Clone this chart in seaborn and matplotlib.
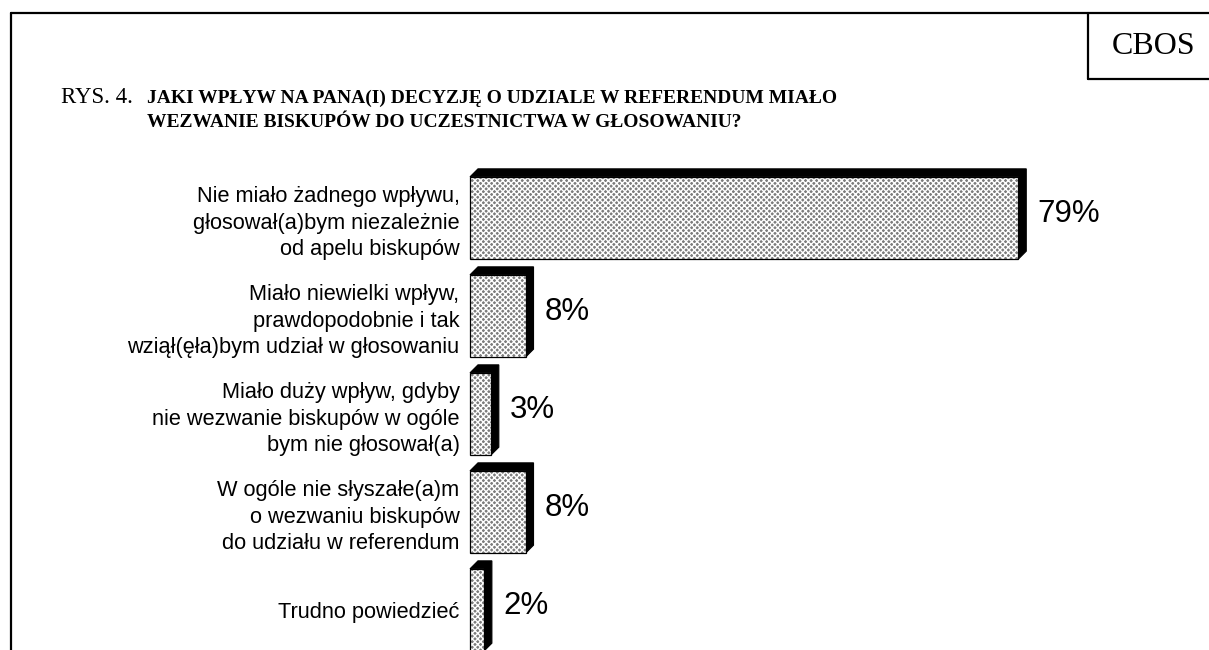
import matplotlib
matplotlib.use("Agg")
import matplotlib.pyplot as plt
import seaborn as sns
from matplotlib.patches import Polygon, Rectangle
from matplotlib.lines import Line2D

# ---------------------------
# Data
# ---------------------------
CATEGORIES = [
    "Nie miało żadnego wpływu,\ngłosował(a)bym niezależnie\nod apelu biskupów",
    "Miało niewielki wpływ,\nprawdopodobnie i tak\nwziął(ęła)bym udział w głosowaniu",
    "Miało duży wpływ, gdyby\nnie wezwanie biskupów w ogóle\nbym nie głosował(a)",
    "W ogóle nie słyszałe(a)m\no wezwaniu biskupów\ndo udziału w referendum",
    "Trudno powiedzieć",
]
VALUES = [79, 8, 3, 8, 2]

TITLE_PREFIX = "RYS. 4."
TITLE_LINES = ["JAKI WPŁYW NA PANA(I) DECYZJĘ O UDZIALE W REFERENDUM MIAŁO",
               "WEZWANIE BISKUPÓW DO UCZESTNICTWA W GŁOSOWANIU?"]
SOURCE = "CBOS"

W, H = 1209, 650
SANS = ["Liberation Sans", "DejaVu Sans"]
SERIF = ["Liberation Serif", "DejaVu Serif"]

sns.set_style("white")
plt.rcParams["font.family"] = SANS
plt.rcParams["text.color"] = "black"
plt.rcParams["ytick.color"] = "black"
plt.rcParams["ytick.labelcolor"] = "black"
plt.rcParams["hatch.linewidth"] = 1.0


def px(x, y):
    """pixel (from top-left) -> figure fraction"""
    return x / W, 1 - y / H


fig = plt.figure(figsize=(W / 100, H / 100), dpi=100)

# axes: x 0..100 spans px 470..1164, categories centred at 218 + 98*i
ax = fig.add_axes([470 / W, 0, 694 / W, 510 / H])
sns.barplot(x=VALUES, y=CATEGORIES, orient="h", color="#7c7c7c",
            saturation=1, width=0.84, ax=ax)
ax.set_xlim(0, 100)
ax.set_ylim(4.408, -0.796)

dx, dy = 8 / 6.94, 8 / 98  # depth of the 3D shadow in data units
for p in ax.patches:
    x0, y0 = p.get_x(), p.get_y()
    w, h = p.get_width(), p.get_height()
    top, bot = y0, y0 + h
    p.set_hatch("xxxxxx")
    p.set_edgecolor("white")
    p.set_linewidth(0)
    p.set_zorder(2)
    shadow = Polygon([(x0, top), (x0 + dx, top - dy), (x0 + w + dx, top - dy),
                      (x0 + w + dx, bot - dy), (x0 + w, bot), (x0 + w, top)],
                     closed=True, facecolor="black", edgecolor="black",
                     lw=0.8, zorder=1, clip_on=False)
    ax.add_patch(shadow)
    ax.add_patch(Rectangle((x0, top), w, h, fill=False, edgecolor="black",
                           lw=0.9, zorder=3, clip_on=False))
    ax.annotate(f"{w:.0f}%", xy=(x0 + w, top + h / 2), xytext=(14, 3),
                textcoords="offset points", ha="left", va="center",
                fontsize=22.5, color="black")

ax.set_xlabel("")
ax.set_ylabel("")
ax.set_xticks([])
ax.tick_params(axis="y", length=0, pad=7.5, labelsize=15.7)
for t in ax.get_yticklabels():
    t.set_linespacing(1.33)
    t.set_color("black")
for s in ax.spines.values():
    s.set_visible(False)

# frame and source box
lw = 1.6
fig.add_artist(Line2D([11 / W, 11 / W], [1 - 13 / H, 0], color="black", lw=lw))
fig.add_artist(Line2D([11 / W, 1], [1 - 13 / H, 1 - 13 / H], color="black", lw=lw))
fig.add_artist(Line2D([1088 / W, 1088 / W], [1 - 13 / H, 1 - 79 / H], color="black", lw=lw))
fig.add_artist(Line2D([1088 / W, 1], [1 - 79 / H, 1 - 79 / H], color="black", lw=lw))
fig.text(*px(1154, 47), SOURCE, family=SERIF, fontsize=23, ha="center", va="center")

# title
fig.text(*px(61, 103), TITLE_PREFIX, family=SERIF, fontsize=16.5,
         ha="left", va="baseline")
for i, line in enumerate(TITLE_LINES):
    fig.text(*px(147, 103 + 24 * i), line, family=SERIF, fontsize=14.0,
             fontweight="bold", ha="left", va="baseline")

plt.savefig("out.png", dpi=100)
